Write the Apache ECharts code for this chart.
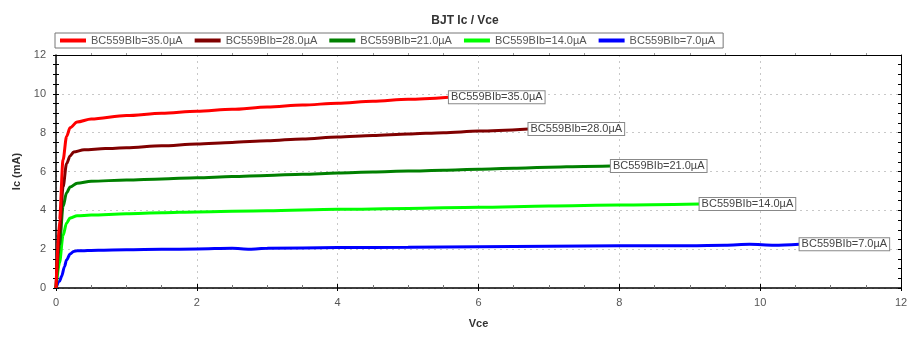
<!DOCTYPE html>
<html>
<head>
<meta charset="utf-8">
<script src="https://cdn.jsdelivr.net/npm/echarts@6/dist/echarts.min.js"></script>
<style>
  html, body { margin: 0; padding: 0; background: #fff; }
  #chart { width: 920px; height: 342px; }
</style>
</head>
<body>
<div id="chart"></div>
<script>
// BC559 output characteristics: collector current vs collector-emitter voltage
const seriesNames = ['BC559BIb=35.0µA', 'BC559BIb=28.0µA', 'BC559BIb=21.0µA', 'BC559BIb=14.0µA', 'BC559BIb=7.0µA'];
const seriesColors = ['#ff0000', '#800000', '#008000', '#00ff00', '#0000ff'];

const vce35 = [0, 0.05, 0.1, 0.15, 0.2, 0.3, 0.5, 1, 1.5, 2, 2.5, 3, 3.5, 4, 4.5, 5, 5.58];
const ic35  = [0, 3.5, 6.6, 7.8, 8.25, 8.55, 8.7, 8.88, 9.0, 9.1, 9.2, 9.32, 9.42, 9.52, 9.62, 9.72, 9.83];

const vce28 = [0, 0.05, 0.1, 0.15, 0.2, 0.25, 0.4, 0.7, 1, 1.5, 2, 2.5, 3, 3.5, 4, 4.5, 5, 5.5, 6, 6.71];
const ic28  = [0, 2.8, 5.2, 6.4, 6.8, 7.0, 7.12, 7.18, 7.22, 7.32, 7.42, 7.5, 7.58, 7.68, 7.78, 7.86, 7.93, 8.0, 8.08, 8.19];

const vce21 = [0, 0.05, 0.1, 0.15, 0.2, 0.3, 0.5, 1, 1.5, 2, 2.5, 3, 3.5, 4, 4.5, 5, 5.5, 6, 6.5, 7, 7.5, 7.88];
const ic21  = [0, 2.2, 4.2, 4.9, 5.2, 5.4, 5.5, 5.56, 5.62, 5.68, 5.74, 5.8, 5.86, 5.92, 5.97, 6.02, 6.07, 6.12, 6.17, 6.22, 6.26, 6.28];

const vce14 = [0, 0.05, 0.1, 0.15, 0.2, 0.3, 0.5, 1, 1.5, 2, 3, 4, 5, 6, 7, 8, 9.14];
const ic14  = [0, 1.3, 2.7, 3.35, 3.6, 3.72, 3.76, 3.82, 3.87, 3.92, 3.98, 4.05, 4.1, 4.16, 4.22, 4.27, 4.32];

const vce7 = [0, 0.05, 0.08, 0.12, 0.15, 0.2, 0.25, 0.3, 0.6, 1, 1.5, 2, 2.5, 2.75, 3, 4, 5, 6, 7, 8, 9, 9.5, 9.85, 10.2, 10.56];
const ic7  = [0, 0.35, 0.6, 1.1, 1.44, 1.75, 1.88, 1.92, 1.95, 1.97, 1.99, 2.01, 2.05, 2.0, 2.05, 2.08, 2.1, 2.13, 2.15, 2.17, 2.18, 2.2, 2.25, 2.2, 2.25];

const xTicks = [0, 2, 4, 6, 8, 10, 12];
const yTicks = [0, 2, 4, 6, 8, 10, 12];

const curves = [[vce35, ic35], [vce28, ic28], [vce21, ic21], [vce14, ic14], [vce7, ic7]];

const font = 'Liberation Sans, Arial, sans-serif';
const textGray = '#555';

function pairs(xs, ys) { return xs.map((x, i) => [x, ys[i]]); }

const axisRange = {
  min: xTicks[0], max: xTicks[xTicks.length - 1], interval: xTicks[1] - xTicks[0]
};
const yRange = {
  min: yTicks[0], max: yTicks[yTicks.length - 1], interval: yTicks[1] - yTicks[0]
};

const chart = echarts.init(document.getElementById('chart'), null, { renderer: 'canvas' });

chart.setOption({
  animation: false,
  backgroundColor: '#ffffff',
  title: {
    text: 'BJT Ic / Vce',
    left: 460, top: 10, textAlign: 'center',
    textStyle: { fontFamily: font, fontSize: 12, fontWeight: 'bold', color: '#333' }
  },
  legend: {
    left: 55, top: 33,
    data: seriesNames,
    icon: 'rect',
    itemWidth: 26, itemHeight: 4, itemGap: 12,
    padding: [2, 8, 2, 5],
    borderColor: '#777', borderWidth: 1,
    textStyle: { fontFamily: font, fontSize: 11, color: textGray }
  },
  grid: { left: 56, right: 19, top: 55, bottom: 54 },
  xAxis: [
    {
      type: 'value', position: 'bottom', ...axisRange,
      name: 'Vce', nameLocation: 'middle', nameGap: 30,
      nameTextStyle: { fontFamily: font, fontSize: 11, fontWeight: 'bold', color: '#333' },
      axisLine: { onZero: false, lineStyle: { color: '#000', width: 1.5 } },
      axisTick: { inside: true, length: 4, lineStyle: { color: '#000' } },
      minorTick: { show: true, splitNumber: 4, length: 3, lineStyle: { color: '#777' } },
      axisLabel: { fontFamily: font, fontSize: 11, color: textGray, margin: 9 },
      splitLine: { show: true, lineStyle: { color: '#c8c8c8', type: [2, 4] } }
    },
    {
      type: 'value', position: 'bottom', ...axisRange,
      axisLine: { show: false },
      axisTick: { inside: false, length: 3, lineStyle: { color: '#000' } },
      axisLabel: { show: false }, splitLine: { show: false }
    },
    {
      type: 'value', position: 'top', ...axisRange,
      axisLine: { onZero: false, lineStyle: { color: '#000', width: 1 } },
      axisTick: { show: false },
      minorTick: { show: true, splitNumber: 4, length: 2, lineStyle: { color: '#999' } },
      axisLabel: { show: false }, splitLine: { show: false }
    }
  ],
  yAxis: [
    {
      type: 'value', position: 'left', ...yRange,
      name: 'Ic (mA)', nameLocation: 'middle', nameGap: 34, nameRotate: 90,
      nameTextStyle: { fontFamily: font, fontSize: 11, fontWeight: 'bold', color: '#333' },
      axisLine: { onZero: false, lineStyle: { color: '#000', width: 1.5 } },
      axisTick: { inside: true, length: 3, lineStyle: { color: '#000' } },
      minorTick: { show: true, splitNumber: 4, length: 3, lineStyle: { color: '#000' } },
      axisLabel: { fontFamily: font, fontSize: 11, color: textGray, margin: 10 },
      splitLine: { show: true, lineStyle: { color: '#c8c8c8', type: [2, 4] } }
    },
    {
      type: 'value', position: 'left', ...yRange,
      axisLine: { show: false },
      axisTick: { inside: false, length: 3, lineStyle: { color: '#000' } },
      minorTick: { show: true, splitNumber: 4, length: 3, lineStyle: { color: '#000' } },
      axisLabel: { show: false }, splitLine: { show: false }
    },
    {
      type: 'value', position: 'right', ...yRange,
      axisLine: { onZero: false, lineStyle: { color: '#000', width: 1 } },
      axisTick: { inside: true, length: 3, lineStyle: { color: '#000' } },
      minorTick: { show: true, splitNumber: 4, length: 3, lineStyle: { color: '#000' } },
      axisLabel: { show: false }, splitLine: { show: false }
    }
  ],
  series: curves.map(([xs, ys], i) => ({
    name: seriesNames[i],
    type: 'line',
    xAxisIndex: 0, yAxisIndex: 0,
    data: pairs(xs, ys),
    showSymbol: false,
    smooth: 0.3,
    smoothMonotone: 'x',
    color: seriesColors[i],
    lineStyle: { width: 3, color: seriesColors[i] },
    z: 10 - i,
    endLabel: {
      show: true,
      formatter: '{a}',
      distance: 0,
      fontFamily: font, fontSize: 11, color: '#444',
      backgroundColor: '#fff',
      borderColor: '#888', borderWidth: 1,
      padding: [1, 2, 0, 2]
    }
  }))
});
</script>
</body>
</html>
